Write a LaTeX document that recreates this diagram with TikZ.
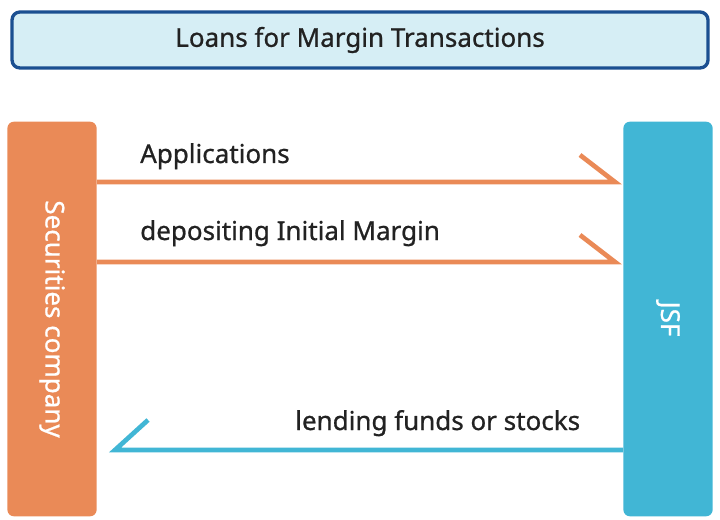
\documentclass[tikz,border=0pt]{standalone}
\usepackage{fontspec}
\setmainfont{Noto Sans}[FakeBold=0.8]
\usetikzlibrary{positioning}
\definecolor{orangebar}{HTML}{EA8A57}
\definecolor{bluebar}{HTML}{41B6D5}
\definecolor{titlefill}{HTML}{D6EEF5}
\definecolor{titleline}{HTML}{1B4F91}
\definecolor{textcol}{HTML}{222222}
\tikzset{
  bar/.style={rounded corners=5pt, minimum width=67pt, minimum height=296pt, inner sep=0pt, text=white, font=\fontsize{19.5}{22}\selectfont},
  flow/.style={line width=3.5pt},
  lbl/.style={font=\fontsize{19.5}{22}\selectfont, text=textcol, anchor=base west, inner sep=0pt}
}
\begin{document}
\begin{tikzpicture}[x=0.75pt,y=-0.75pt]
  \useasboundingbox (0,0) rectangle (720,520);
  \node (title) [draw=titleline, line width=2.5pt, fill=titlefill, rounded corners=6pt, minimum width=522pt, minimum height=42pt, text=textcol, font=\fontsize{19.5}{22}\selectfont] at (360,40) {Loans for Margin Transactions};
  \node (sec) [bar, fill=orangebar] at (52,319) {\rotatebox{-90}{Securities company}};
  \node (jsf) [bar, fill=bluebar] at (668,319) {\rotatebox{-90}{JSF}};
  % harpoon ends
  \coordinate (e1) at (615,182);
  \coordinate (e2) at (615,262);
  \coordinate (e3) at (115,450);
  \draw[flow, orangebar] (sec.east |- e1) -- (e1) -- ++(-35,-27);
  \draw[flow, orangebar] (sec.east |- e2) -- (e2) -- ++(-35,-27);
  \draw[flow, bluebar] (jsf.west |- e3) -- (e3) -- ++(33,-30);
  \node (app) [lbl] at (140,163) {Applications};
  \node (dep) [lbl] at (140,240) {depositing Initial Margin};
  \node (lend) [lbl] at (295,430) {lending funds or stocks};
\end{tikzpicture}
\end{document}
